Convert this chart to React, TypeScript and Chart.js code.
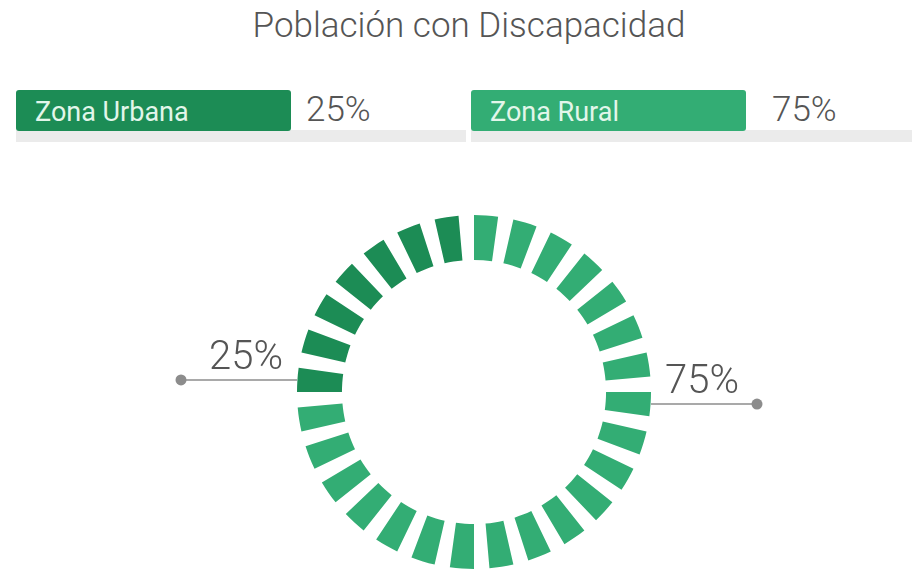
import React, { useEffect, useRef } from "react";
import { Chart, registerables } from "chart.js";

Chart.register(...registerables);

const title = "Población con Discapacidad";
const categories = ["Zona Urbana", "Zona Rural"];
const shares = [25, 75];
const labels = ["25%", "75%"];
const tickCount = 28;
const fillRatio = 0.61;
const colors = ["#1c8c55", "#33ad74"];
const textColors = ["#e2f6ea", "#e2f6ea"];

function buildData() {
  const values: number[] = [];
  const bg: string[] = [];
  const owner: number[] = [];
  shares.forEach((s, ci) => {
    const n = Math.round((s / 100) * tickCount);
    const tv = s / n;
    for (let k = 0; k < n; k++) {
      values.push(tv * fillRatio);
      bg.push(colors[ci]);
      owner.push(ci);
      values.push(tv * (1 - fillRatio));
      bg.push("rgba(0,0,0,0)");
      owner.push(-1);
    }
  });
  return { values, bg, owner };
}

const calloutPlugin = {
  id: "callouts",
  afterDatasetsDraw(chart: any) {
    const { ctx } = chart;
    const meta = chart.getDatasetMeta(0);
    const owner: number[] = chart.data.datasets[0].owner;
    const targets = [Math.PI, 0];
    const sides = [-1, 1];
    const lineLen = [116, 106];
    categories.forEach((_, ci) => {
      let best: any = null;
      let bestD = 1e9;
      meta.data.forEach((arc: any, i: number) => {
        if (owner[i] !== ci) return;
        const mid = (arc.startAngle + arc.endAngle) / 2;
        let a = ((mid % (2 * Math.PI)) + 2 * Math.PI) % (2 * Math.PI);
        let d = Math.abs(a - targets[ci]);
        d = Math.min(d, 2 * Math.PI - d);
        if (d < bestD) {
          bestD = d;
          best = arc;
        }
      });
      if (!best) return;
      const mid = (best.startAngle + best.endAngle) / 2;
      const y = best.y + best.outerRadius * Math.sin(mid);
      const edgeX = best.x + sides[ci] * best.outerRadius;
      const dotX = edgeX + sides[ci] * lineLen[ci];
      ctx.save();
      ctx.strokeStyle = "#8c8c8c";
      ctx.lineWidth = 1.5;
      ctx.beginPath();
      ctx.moveTo(dotX, y);
      ctx.lineTo(edgeX, y);
      ctx.stroke();
      ctx.fillStyle = "#8c8c8c";
      ctx.beginPath();
      ctx.arc(dotX, y, 5.5, 0, Math.PI * 2);
      ctx.fill();
      ctx.font = "300 40px Roboto, 'Noto Sans', sans-serif";
      ctx.fillStyle = "#555555";
      ctx.textBaseline = "alphabetic";
      ctx.textAlign = ci === 0 ? "right" : "left";
      ctx.fillText(labels[ci], edgeX + sides[ci] * 14, y - 11);
      ctx.restore();
    });
  },
};

export default function App() {
  const ref = useRef<HTMLCanvasElement | null>(null);
  useEffect(() => {
    if (!ref.current) return;
    const { values, bg, owner } = buildData();
    const chart = new Chart(ref.current, {
      type: "doughnut",
      data: {
        labels: values.map((_, i) => String(i)),
        datasets: [
          {
            data: values,
            backgroundColor: bg,
            borderWidth: 0,
            hoverOffset: 0,
            owner,
          } as any,
        ],
      },
      options: {
        responsive: false,
        maintainAspectRatio: false,
        animation: false,
        events: [],
        rotation: 270,
        cutout: "74.6%",
        layout: { padding: { left: 297, right: 261, top: 215, bottom: 11 } },
        plugins: { legend: { display: false }, tooltip: { enabled: false } },
      },
      plugins: [calloutPlugin],
    });
    return () => chart.destroy();
  }, []);

  const font = "Roboto, 'Noto Sans', sans-serif";
  const boxLeft = [16, 471];
  const greyW = [450, 441];
  const numLeft = [306, 772];

  return (
    <div
      style={{
        position: "fixed",
        left: 0,
        top: 0,
        width: 912,
        height: 580,
        background: "#ffffff",
        overflow: "hidden",
        fontFamily: font,
      }}
    >
      <div
        style={{
          position: "absolute",
          left: 0,
          top: 5,
          width: 938,
          textAlign: "center",
          fontSize: 35,
          lineHeight: "42px",
          color: "#555555",
          fontWeight: 300,
        }}
      >
        {title}
      </div>
      {categories.map((c, i) => (
        <React.Fragment key={c}>
          <div
            style={{
              position: "absolute",
              left: boxLeft[i],
              top: 130,
              width: greyW[i],
              height: 12,
              background: "#ebebeb",
            }}
          />
          <div
            style={{
              position: "absolute",
              left: boxLeft[i],
              top: 90,
              width: 275,
              height: 41,
              borderRadius: 3,
              background: colors[i],
              color: textColors[i],
              fontSize: 27,
              lineHeight: "44px",
              paddingLeft: 19,
              boxSizing: "border-box",
              fontWeight: 400,
            }}
          >
            {c}
          </div>
          <div
            style={{
              position: "absolute",
              left: numLeft[i],
              top: 88,
              fontSize: 35,
              lineHeight: "44px",
              color: "#555555",
              fontWeight: 300,
            }}
          >
            {labels[i]}
          </div>
        </React.Fragment>
      ))}
      <canvas
        ref={ref}
        width={912}
        height={580}
        style={{ position: "absolute", left: 0, top: 0, width: 912, height: 580 }}
      />
    </div>
  );
}
